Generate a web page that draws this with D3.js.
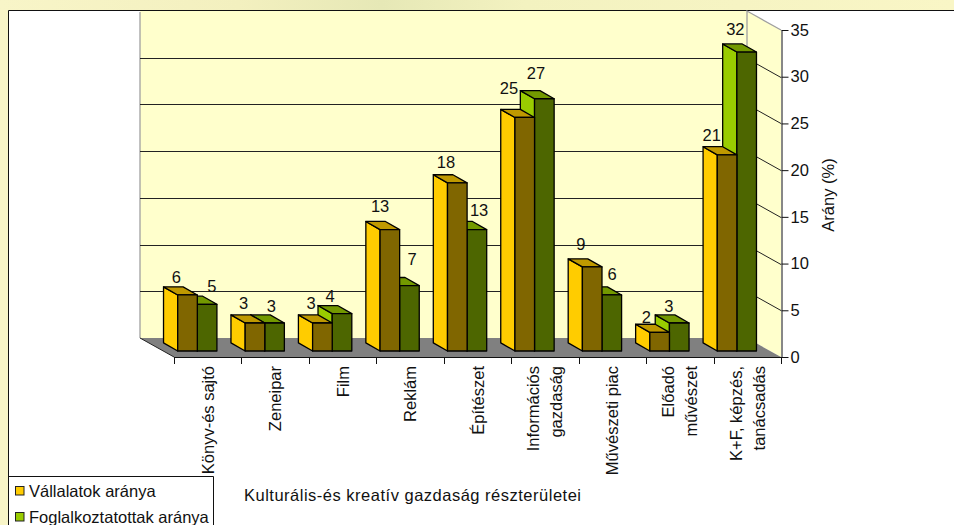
<!DOCTYPE html>
<html><head><meta charset="utf-8">
<script src="https://cdn.jsdelivr.net/npm/d3@7/dist/d3.min.js"></script>
<style>html,body{margin:0;padding:0;background:#fff}svg{display:block}text{font-family:"Liberation Sans",Arial,sans-serif;fill:#111}</style>
</head><body><svg id="c" width="954" height="525"></svg>
<script>
const categories = [["Könyv-és sajtó"],["Zeneipar"],["Film"],["Reklám"],["Építészet"],["Információs","gazdaság"],["Művészeti piac"],["Előadó","művészet"],["K+F, képzés,","tanácsadás"]];
const seriesNames = ["Vállalatok aránya","Foglalkoztatottak aránya"];
const vallalatok = [6,3,3,13,18,25,9,2,21];
const foglalkoztatottak = [5,3,4,7,13,27,6,3,32];
const yTicks = [0,5,10,15,20,25,30,35];
const axisTitleY = "Arány (%)";
const axisTitleX = "Kulturális-és kreatív gazdaság részterületei";

const svg = d3.select("#c");
const defs = svg.append("defs");
const g = defs.append("linearGradient").attr("id","bg");
[[0,"#f8f5c8"],[.25,"#f3f0bf"],[.4,"#e6e8b6"],[.55,"#f3f2c0"],[1,"#f9f6c6"]].forEach(s=>g.append("stop").attr("offset",s[0]).attr("stop-color",s[1]));
svg.append("rect").attr("width",954).attr("height",10).attr("fill","url(#bg)");
svg.append("rect").attr("y",10).attr("width",8).attr("height",515).attr("fill","#f8f5c8");
svg.append("path").attr("d","M8.5,525V10.5H954").attr("fill","none").attr("stroke","#111");

const DX=34, DY=19, FX0=174, FX1=781, FY0=357, FY35=30;
const x = d3.scaleBand().domain(d3.range(categories.length)).range([FX0,FX1]);
const y = d3.scaleLinear().domain([0,35]).range([FY0,FY35]);
const line=(p)=>d3.line()(p)+"Z";

// walls and floor
svg.append("path").attr("d",line([[FX0-DX,y(35)-DY],[FX1-DX,y(35)-DY],[FX1-DX,y(0)-DY],[FX0-DX,y(0)-DY]])).attr("fill","#ffffcc");
svg.append("path").attr("d",line([[FX1-DX,y(35)-DY],[FX1,y(35)],[FX1,y(0)],[FX1-DX,y(0)-DY]])).attr("fill","#ffffcc");
svg.append("path").attr("d",line([[FX0-DX,y(0)-DY],[FX1-DX,y(0)-DY],[FX1,y(0)],[FX0,y(0)]])).attr("fill","#808080");
// wall edges
svg.append("path").attr("d",`M${FX0-DX},${y(0)-DY}V${y(35)-DY+1}M${FX1-DX},${y(0)-DY}V${y(35)-DY}L${FX1},${y(35)}`).attr("fill","none").attr("stroke","#a0a0a0").attr("stroke-width",1.3);
// grid
yTicks.slice(1,-1).forEach(t=>{
  svg.append("path").attr("d",`M${FX0-DX},${Math.round(y(t)-DY)+.5}H${FX1-DX}L${FX1},${Math.round(y(t))+.5}`).attr("fill","none").attr("stroke","#222").attr("stroke-width",1);
});
svg.append("path").attr("d",`M${FX0},${FY0}L${FX0-DX},${FY0-DY}`).attr("stroke","#222").attr("fill","none");

// bars
const barW=19.6, zFront=10.4, zDepth=14.2, zFrontY=10.7*DY/DX, zDepthY=14.5*DY/DX;
const palettes=[{front:"#806600",side:"#ffcc00",top:"#bf9900"},{front:"#4d6600",side:"#99cc00",top:"#739900"}];
const barsG=svg.append("g").attr("stroke","#000").attr("stroke-width",1.3).attr("stroke-linejoin","round");
categories.forEach((c,i)=>{
  const cx=x(i)+x.bandwidth()/2-zFront;
  [1,0].forEach(s=>{
    const v=(s?foglalkoztatottak:vallalatok)[i], p=palettes[s];
    const l=cx+(s?0:-barW), r=l+barW, b=y(0)-zFrontY, h=y(0)-y(v), t=b-h;
    barsG.append("path").attr("d",line([[l,b],[l,t],[l-zDepth,t-zDepthY],[l-zDepth,b-zDepthY]])).attr("fill",p.side);
    barsG.append("path").attr("d",line([[l,t],[r,t],[r-zDepth,t-zDepthY],[l-zDepth,t-zDepthY]])).attr("fill",p.top);
    barsG.append("rect").attr("x",l).attr("y",t).attr("width",barW).attr("height",h).attr("fill",p.front);
  });
});

// data labels (hand-placed in the original, offsets from each bar's top centre)
const labelOffsets=[
 [[-11,-18],[-11,-20],[-11,-20],[-9.5,-23.6],[-11,-21],[-15.5,-29],[-11,-23],[-13,-15],[-15,-20]],
 [[5,-18],[-3,-17],[-11.6,-17.6],[3,-27],[2.5,-20],[-8,-26],[.6,-21],[-10,-17],[-11,-23]]];
[vallalatok,foglalkoztatottak].forEach((vals,s)=>vals.forEach((v,i)=>{
  const cx=x(i)+x.bandwidth()/2-10.7+(s?barW/2:-barW/2), t=y(0)-zFrontY-(y(0)-y(v));
  svg.append("text").attr("x",cx+labelOffsets[s][i][0]).attr("y",t+labelOffsets[s][i][1]).attr("dy","0.36em").attr("text-anchor","middle").attr("font-size",16.5).text(v);
}));

// axes
const yAxis=d3.axisRight(y).tickValues(yTicks).tickSize(7).tickPadding(2).tickSizeOuter(0);
const ya=svg.append("g").attr("transform",`translate(${FX1+.5},0)`).call(yAxis);
ya.attr("font-family",null).attr("font-size",null);
ya.selectAll("text").attr("font-size",16.5);
ya.selectAll("path,line").attr("stroke","#111");
const xa=d3.range(categories.length+1);
svg.append("path").attr("d",`M${FX0},${FY0+.5}H${FX1}`).attr("stroke","#111");
xa.forEach(i=>svg.append("path").attr("d",`M${Math.round(FX0+i*x.bandwidth())+.5},${FY0}v7`).attr("stroke","#111"));
categories.forEach((c,i)=>{
  const cx=x(i)+x.bandwidth()/2;
  const t=svg.append("text").attr("transform",`translate(${cx},366) rotate(-90)`).attr("text-anchor","end").attr("font-size",16.5);
  c.forEach((ln,k)=>t.append("tspan").attr("x",0).attr("y",(k-(c.length-1)/2)*23+6).text(ln));
});
svg.append("text").attr("transform","translate(834,195) rotate(-90)").attr("text-anchor","middle").attr("font-size",16.5).text(axisTitleY);
svg.append("text").attr("x",244).attr("y",501).attr("font-size",16.5).attr("letter-spacing",.5).text(axisTitleX);

// legend
svg.append("path").attr("d","M8.5,476.5H213.5V525").attr("fill","none").attr("stroke","#111");
seriesNames.forEach((n,i)=>{
  const ty=[497,523][i], c=palettes[i].side;
  svg.append("rect").attr("x",15.5).attr("y",ty-10.5).attr("width",8.5).attr("height",8.5).attr("fill",c).attr("stroke","#222");
  svg.append("text").attr("x",29).attr("y",ty).attr("font-size",16.5).text(n);
});
</script></body></html>
